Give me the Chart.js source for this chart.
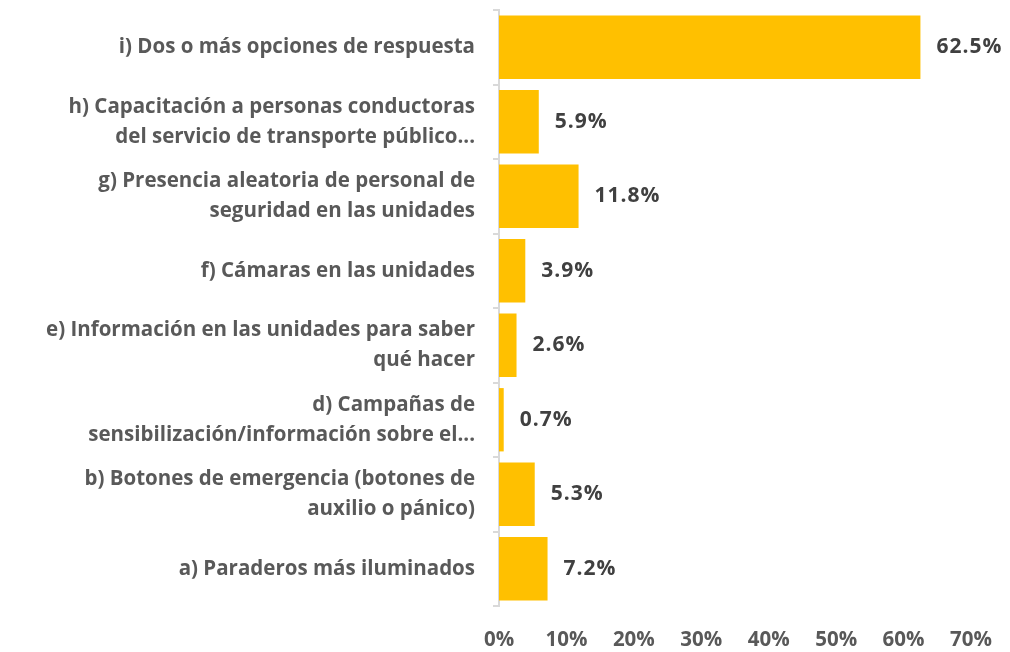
<!DOCTYPE html>
<html>
<head>
<meta charset="utf-8">
<script src="https://cdn.jsdelivr.net/npm/chart.js@4"></script>
<style>
  html, body { margin: 0; padding: 0; background: #fff; }
  #wrap { width: 1010px; height: 652px; }
</style>
</head>
<body>
<div id="wrap"><canvas id="chart"></canvas></div>
<script>
// Categorías (de arriba hacia abajo)
const categorias = [
    'i) Dos o más opciones de respuesta',
    ['h) Capacitación a personas conductoras', 'del servicio de transporte público...'],
    ['g) Presencia aleatoria de personal de', 'seguridad en las unidades'],
    'f) Cámaras en las unidades',
    ['e) Información en las unidades para saber', 'qué hacer'],
    ['d) Campañas de', 'sensibilización/información sobre el...'],
    ['b) Botones de emergencia (botones de', 'auxilio o pánico)'],
    'a) Paraderos más iluminados'
];
const porcentajes = [62.5, 5.9, 11.8, 3.9, 2.6, 0.7, 5.3, 7.2];
const ejeMax = 70;
const ejePaso = 10;

const fuente = "'Open Sans', 'DejaVu Sans', sans-serif";

// Espaciado de letras (para parecerse más al original)
const espaciado = {
    id: 'espaciado',
    beforeInit(chart) { chart.ctx.letterSpacing = '1px'; }
};

// Etiquetas de valor al final de cada barra
const etiquetasValor = {
    id: 'etiquetasValor',
    afterDatasetsDraw(chart) {
        const ctx = chart.ctx;
        const meta = chart.getDatasetMeta(0);
        ctx.save();
        ctx.font = 'bold 21px ' + fuente;
        ctx.letterSpacing = '1px';
        ctx.fillStyle = '#404040';
        ctx.textAlign = 'left';
        ctx.textBaseline = 'middle';
        meta.data.forEach((bar, i) => {
            ctx.fillText(porcentajes[i].toFixed(1) + '%', bar.x + 16, bar.y);
        });
        ctx.restore();
    }
};

new Chart(document.getElementById('chart').getContext('2d'), {
    type: 'bar',
    data: {
        labels: categorias,
        datasets: [{
            data: porcentajes,
            backgroundColor: '#ffc000',
            borderWidth: 0,
            barPercentage: 0.85,
            categoryPercentage: 1
        }]
    },
    options: {
        indexAxis: 'y',
        responsive: true,
        maintainAspectRatio: false,
        animation: false,
        layout: { padding: { left: 0, right: 39, top: 10, bottom: 0 } },
        plugins: {
            legend: { display: false },
            tooltip: { enabled: false }
        },
        scales: {
            x: {
                min: 0,
                max: ejeMax,
                afterFit(scale) { scale.height = 46; },
                ticks: {
                    stepSize: ejePaso,
                    padding: 14,
                    color: '#595959',
                    font: { family: fuente, size: 20.5, weight: 'bold' },
                    callback: v => v + '%'
                },
                grid: { display: false },
                border: { display: false }
            },
            y: {
                afterFit(scale) {
                    scale.width = 499;
                    scale.paddingTop = 0;
                    scale.paddingBottom = 0;
                },
                ticks: {
                    padding: 18,
                    color: '#595959',
                    font: { family: fuente, size: 20.5, weight: 'bold', lineHeight: 1.47 }
                },
                grid: {
                    offset: true,
                    drawOnChartArea: false,
                    tickLength: 6,
                    color: '#d9d9d9',
                    lineWidth: 2
                },
                border: { color: '#d9d9d9', width: 2 }
            }
        }
    },
    plugins: [espaciado, etiquetasValor]
});
</script>
</body>
</html>
